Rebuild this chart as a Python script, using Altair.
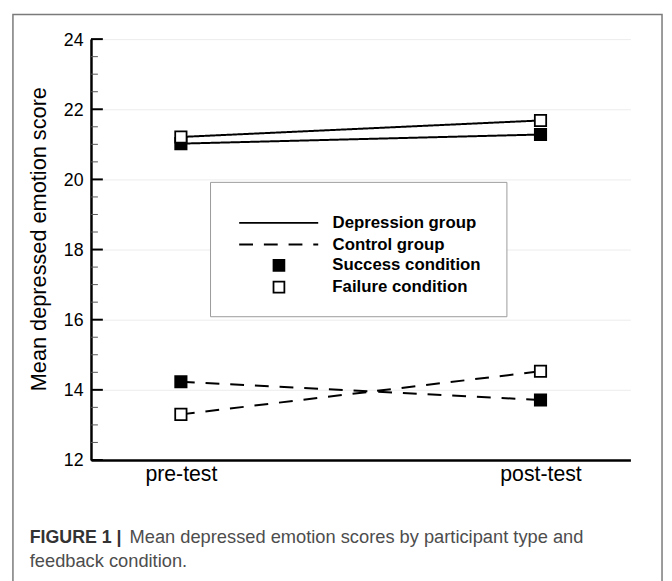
import altair as alt
import pandas as pd

# ---------------- data ----------------
phases = ["pre-test", "post-test"]
groups = ["Depression group", "Control group"]
conditions = ["Success condition", "Failure condition"]
depression_success = [21.02, 21.28]
depression_failure = [21.21, 21.68]
control_success = [14.23, 13.71]
control_failure = [13.30, 14.53]
y_major_ticks = [12, 14, 16, 18, 20, 22, 24]
y_minor_ticks = [12.5, 13, 13.5, 14.5, 15, 15.5, 16.5, 17, 17.5,
                 18.5, 19, 19.5, 20.5, 21, 21.5, 22.5, 23, 23.5]
y_title = "Mean depressed emotion score"
caption_bold = "FIGURE 1 |"
caption_line1 = "Mean depressed emotion scores by participant type and"
caption_line2 = "feedback condition."

rows = []
for g, c, vals in [
    (groups[0], conditions[0], depression_success),
    (groups[0], conditions[1], depression_failure),
    (groups[1], conditions[0], control_success),
    (groups[1], conditions[1], control_failure),
]:
    for p, v in zip(phases, vals):
        rows.append({"phase": p, "score": v, "group": g, "condition": c,
                     "series": g + " / " + c})
df = pd.DataFrame(rows)
major_df = pd.DataFrame({"score": y_major_ticks})
minor_df = pd.DataFrame({"score": y_minor_ticks})
one = pd.DataFrame({"k": [0]})

FONT = "Liberation Sans"
W, H = 546, 426

yscale = alt.Scale(domain=[12, 24], nice=False, zero=False)
xscale = alt.Scale(type="point", padding=0.25)

x_axis = alt.Axis(title=None, labelAngle=0, ticks=False, grid=False,
                  domainColor="black", domainWidth=2.5,
                  labelFont=FONT, labelFontSize=21.5, labelColor="black",
                  labelPadding=4)
y_axis = alt.Axis(title=y_title, values=y_major_ticks, ticks=False,
                  grid=True, gridColor="#ececec", gridWidth=1,
                  domainColor="black", domainWidth=2.5,
                  labelFont=FONT, labelFontSize=18, labelColor="black",
                  labelPadding=8, labelOffset=1,
                  titleFont=FONT, titleFontSize=22, titleFontWeight="normal",
                  titleColor="black", titleAngle=270, titleX=-41, titleY=202,
                  titleBaseline="bottom", titleAlign="center")

x_enc = alt.X("phase:N", sort=phases, scale=xscale, axis=x_axis)
y_enc = alt.Y("score:Q", scale=yscale, axis=y_axis)

frame = alt.Chart(one).mark_rect(fill="white", fillOpacity=0, stroke="#7a7a7a",
                                 strokeWidth=1.5).encode(
    x=alt.value(-79), x2=alt.value(578), y=alt.value(-25), y2=alt.value(560))

legend_box = alt.Chart(one).mark_rect(fill="white", stroke="#9a9a9a",
                                      strokeWidth=1).encode(
    x=alt.value(121), x2=alt.value(421), y=alt.value(145), y2=alt.value(281))

minor = alt.Chart(minor_df).mark_rule(color="#555555", strokeWidth=1).encode(
    x=alt.value(0), x2=alt.value(7), y=y_enc)
major = alt.Chart(major_df).mark_rule(color="black", strokeWidth=2).encode(
    x=alt.value(0), x2=alt.value(12), y=y_enc)

lines = alt.Chart(df).mark_line(color="black", strokeWidth=2).encode(
    x=x_enc, y=y_enc, detail="series:N",
    strokeDash=alt.StrokeDash(
        "group:N",
        scale=alt.Scale(domain=groups, range=[[1, 0], [14, 11]]),
        legend=alt.Legend(orient="none", legendX=149, legendY=177.5, title=None,
                          symbolType="stroke", symbolSize=6400,
                          symbolStrokeWidth=2, symbolStrokeColor="black",
                          labelFont=FONT, labelFontSize=17, labelFontWeight="bold",
                          labelColor="black", labelOffset=13.5, clipHeight=17,
                          rowPadding=4, padding=0)))

points = alt.Chart(df).mark_point(shape="square", size=132, filled=True,
                                  stroke="black", strokeWidth=1.8,
                                  opacity=1).encode(
    x=x_enc, y=y_enc,
    fill=alt.Fill(
        "condition:N",
        scale=alt.Scale(domain=conditions, range=["black", "white"]),
        legend=alt.Legend(orient="none", legendX=149, legendY=220.5, title=None,
                          symbolType="square", symbolSize=121,
                          symbolStrokeColor="black", symbolStrokeWidth=1.8,
                          symbolOffset=32.75, labelOffset=45.5,
                          labelFont=FONT, labelFontSize=17, labelFontWeight="bold",
                          labelColor="black", clipHeight=17, rowPadding=4,
                          padding=0)))

cap_a = alt.Chart(one).mark_text(text=caption_bold, align="left", baseline="alphabetic",
                                 font=FONT, fontSize=18, fontWeight="bold",
                                 color="#333333").encode(
    x=alt.value(-62), y=alt.value(510))
cap_b = alt.Chart(one).mark_text(text=caption_line1, align="left", baseline="alphabetic",
                                 font=FONT, fontSize=18.5, fontWeight="normal",
                                 color="#4d4d4d").encode(
    x=alt.value(39), y=alt.value(510))
cap_c = alt.Chart(one).mark_text(text=caption_line2, align="left", baseline="alphabetic",
                                 font=FONT, fontSize=18.5, fontWeight="normal",
                                 color="#4d4d4d").encode(
    x=alt.value(-62), y=alt.value(534))

chart = alt.layer(frame, legend_box, minor, major, lines, points,
                  cap_a, cap_b, cap_c).properties(
    width=W, height=H,
    autosize=alt.AutoSizeParams(type="none"),
    padding={"left": 84, "top": 28, "right": 34, "bottom": 119},
).configure_view(stroke="transparent")

chart.save("out.html", embed_options={"renderer": "svg", "actions": False})
